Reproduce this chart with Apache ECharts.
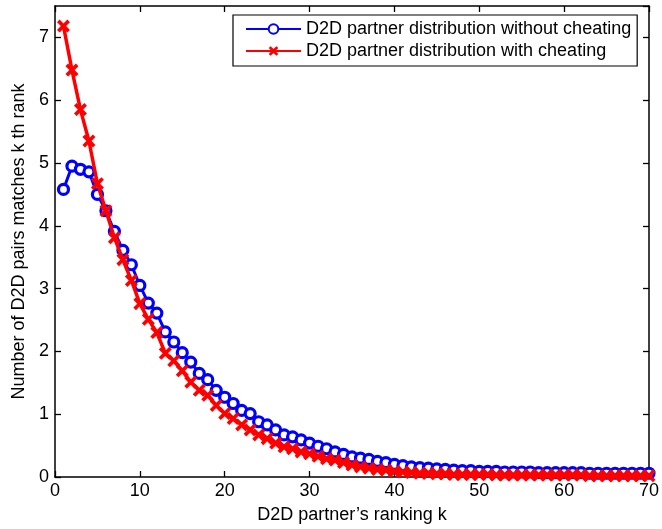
<!DOCTYPE html>
<html>
<head>
<meta charset="utf-8">
<script src="https://cdn.jsdelivr.net/npm/echarts@6/dist/echarts.min.js"></script>
<style>html,body{margin:0;padding:0;background:#fff}#c{width:662px;height:529px}</style>
</head>
<body>
<div id="c"></div>
<script>
const ranks = Array.from({length: 70}, (_, i) => i + 1);
const withoutCheating = [
  4.58, 4.95, 4.90, 4.86, 4.50, 4.24, 3.91, 3.61, 3.38, 3.05,
  2.77, 2.61, 2.31, 2.15, 1.98, 1.83, 1.65, 1.55, 1.38, 1.27,
  1.17, 1.06, 1.01, 0.88, 0.83, 0.75, 0.67, 0.64, 0.59, 0.54,
  0.49, 0.45, 0.40, 0.36, 0.32, 0.30, 0.28, 0.25, 0.23, 0.20,
  0.18, 0.16, 0.15, 0.14, 0.13, 0.12, 0.11, 0.10, 0.10, 0.09,
  0.09, 0.09, 0.08, 0.08, 0.08, 0.08, 0.07, 0.07, 0.07, 0.07,
  0.07, 0.07, 0.06, 0.06, 0.06, 0.06, 0.06, 0.06, 0.06, 0.06
];
const withCheating = [
  7.18, 6.48, 5.85, 5.35, 4.67, 4.24, 3.81, 3.46, 3.13, 2.76,
  2.51, 2.30, 1.97, 1.85, 1.69, 1.51, 1.38, 1.30, 1.14, 1.01,
  0.93, 0.83, 0.75, 0.67, 0.61, 0.54, 0.48, 0.45, 0.40, 0.37,
  0.33, 0.29, 0.27, 0.23, 0.19, 0.16, 0.14, 0.12, 0.11, 0.09,
  0.08, 0.07, 0.06, 0.06, 0.05, 0.05, 0.04, 0.04, 0.04, 0.04,
  0.04, 0.03, 0.03, 0.03, 0.03, 0.03, 0.03, 0.03, 0.03, 0.03,
  0.03, 0.03, 0.02, 0.02, 0.02, 0.02, 0.02, 0.02, 0.02, 0.02
];
const xTicks = [0, 10, 20, 30, 40, 50, 60, 70];
const yTicks = [0, 1, 2, 3, 4, 5, 6, 7];
const seriesNames = ['D2D partner distribution without cheating', 'D2D partner distribution with cheating'];
const xName = 'D2D partner\u2019s ranking k';
const yName = 'Number of D2D pairs matches k th rank';

const FONT = '"Liberation Sans", Arial, Helvetica, sans-serif';
const FS = 18;
const crossPath = 'path://M0,2 L2,0 L5,3 L8,0 L10,2 L7,5 L10,8 L8,10 L5,7 L2,10 L0,8 L3,5 Z';

const tickStyle = {show: true, inside: true, length: 6, lineStyle: {color: '#000', width: 1.3}};
const lineStyleAxis = {show: true, onZero: false, lineStyle: {color: '#000', width: 1.5}};

const chart = echarts.init(document.getElementById('c'), null, {renderer: 'canvas'});
chart.setOption({
  animation: false,
  backgroundColor: '#fff',
  grid: {left: 55, right: 7, top: 6, bottom: 52, containLabel: false},
  legend: {
    orient: 'vertical',
    left: 233, top: 15,
    backgroundColor: '#fff',
    borderColor: '#000', borderWidth: 1.2, borderRadius: 0,
    padding: [5, 6, 6, 12],
    itemWidth: 55, itemHeight: 12, itemGap: 4,
    textStyle: {fontFamily: FONT, fontSize: FS, color: '#000'},
    data: seriesNames
  },
  xAxis: [{
    type: 'value', min: xTicks[0], max: xTicks[xTicks.length - 1], interval: 10,
    name: xName, nameLocation: 'middle', nameGap: 29,
    nameTextStyle: {fontFamily: FONT, fontSize: FS, color: '#000'},
    axisLine: lineStyleAxis, axisTick: tickStyle,
    axisLabel: {fontFamily: FONT, fontSize: FS, color: '#000', margin: 5},
    splitLine: {show: false}
  }, {
    type: 'value', position: 'top', min: 0, max: 70, interval: 10,
    axisLine: lineStyleAxis,
    axisTick: tickStyle, axisLabel: {show: false}, splitLine: {show: false}
  }],
  yAxis: [{
    type: 'value', min: 0, max: 7.5, interval: 1,
    name: yName, nameLocation: 'middle', nameGap: 27,
    nameTextStyle: {fontFamily: FONT, fontSize: FS, color: '#000'},
    axisLine: lineStyleAxis,
    axisTick: tickStyle,
    axisLabel: {fontFamily: FONT, fontSize: FS, color: '#000', margin: 6, showMaxLabel: false,
      formatter: v => (yTicks.indexOf(v) >= 0 ? String(v) : '')},
    splitLine: {show: false}
  }, {
    type: 'value', position: 'right', min: 0, max: 7.5, interval: 1,
    axisLine: lineStyleAxis,
    axisTick: tickStyle, axisLabel: {show: false}, splitLine: {show: false}
  }],
  series: [{
    name: seriesNames[0], type: 'line',
    data: ranks.map((k, i) => [k, withoutCheating[i]]),
    lineStyle: {color: '#0000ff', width: 3},
    itemStyle: {color: '#ffffff', borderColor: '#0000ff', borderWidth: 3.2},
    symbol: 'circle', symbolSize: 10, showAllSymbol: true,
    z: 2
  }, {
    name: seriesNames[1], type: 'line',
    data: ranks.map((k, i) => [k, withCheating[i]]),
    lineStyle: {color: '#ff0000', width: 3.5},
    itemStyle: {color: '#ff0000'},
    symbol: crossPath, symbolSize: 13, showAllSymbol: true,
    z: 3
  }]
});
</script>
</body>
</html>
